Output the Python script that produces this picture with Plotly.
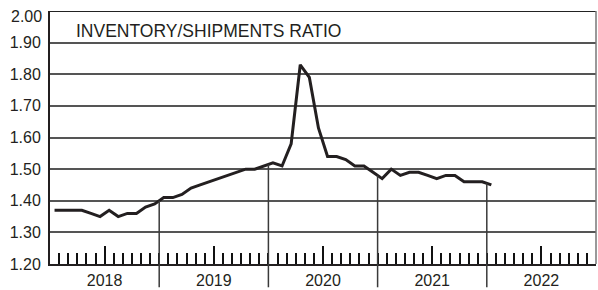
import plotly.graph_objects as go

# Monthly inventory/shipments ratio, Jan 2018 - Jan 2022
years = ["2018", "2019", "2020", "2021", "2022"]
ratio = [
    1.37, 1.37, 1.37, 1.37, 1.36, 1.35, 1.37, 1.35, 1.36, 1.36, 1.38, 1.39,  # 2018
    1.41, 1.41, 1.42, 1.44, 1.45, 1.46, 1.47, 1.48, 1.49, 1.50, 1.50, 1.51,  # 2019
    1.52, 1.51, 1.58, 1.83, 1.79, 1.63, 1.54, 1.54, 1.53, 1.51, 1.51, 1.49,  # 2020
    1.47, 1.50, 1.48, 1.49, 1.49, 1.48, 1.47, 1.48, 1.48, 1.46, 1.46, 1.46,  # 2021
    1.45,                                                                    # 2022
]
y_ticks = [1.2, 1.3, 1.4, 1.5, 1.6, 1.7, 1.8, 1.9]
title_text = "INVENTORY/SHIPMENTS RATIO"

months = [i + 0.5 for i in range(len(ratio))]  # plotted mid-month
n_months = 12 * len(years)

FONT = "Liberation Sans"
fig = go.Figure()
fig.add_trace(go.Scatter(x=months, y=ratio, mode="lines",
                         line=dict(color="#231f20", width=3), hoverinfo="skip"))

shapes = []
# drop lines at year boundaries, from data value to below axis
for k in range(1, len(years)):
    b = 12 * k
    if b >= len(ratio):
        break
    v = (ratio[b - 1] + ratio[b]) / 2
    shapes.append(dict(type="line", xref="x", yref="y", x0=b, x1=b, y0=1.2, y1=v,
                       line=dict(color="#3a3a3a", width=1.5), layer="above"))
for k in range(1, len(years)):
    b = 12 * k
    shapes.append(dict(type="line", xref="x", yref="paper", x0=b, x1=b, y0=0, y1=-0.092,
                       line=dict(color="#3a3a3a", width=1.5)))
# top border and right border
shapes.append(dict(type="line", xref="paper", yref="y", x0=0, x1=1, y0=2.0, y1=2.0,
                   line=dict(color="#222", width=2)))
shapes.append(dict(type="line", xref="paper", yref="paper", x0=1, x1=1, y0=0, y1=1,
                   line=dict(color="#777", width=1.5)))

fig.update_layout(
    width=598, height=290,
    margin=dict(l=50, r=2, t=11, b=26),
    paper_bgcolor="white", plot_bgcolor="white",
    showlegend=False,
    shapes=shapes,
    font=dict(family=FONT, size=16, color="#231f20"),
    xaxis=dict(
        range=[0, n_months],
        automargin=False,
        tickvals=[12 * i + 6 for i in range(len(years))],
        ticktext=years,
        ticks="inside", ticklen=18, tickwidth=1.6, tickcolor="#111",
        minor=dict(dtick=1, tick0=0, ticks="inside", ticklen=11, tickwidth=1.6,
                   tickcolor="#111", showgrid=False),
        showgrid=False, zeroline=False,
        showline=True, linecolor="#231f20", linewidth=2,
        tickfont=dict(size=16),
        ticklabelstandoff=1,
    ),
    yaxis=dict(
        range=[1.2, 2.0],
        automargin=False,
        tickvals=y_ticks,
        ticktext=[f"{v:.2f}" for v in y_ticks],
        ticks="", showgrid=True, gridcolor="#555", gridwidth=1.5,
        zeroline=False,
        showline=True, linecolor="#231f20", linewidth=2,
        tickfont=dict(size=16),
        ticklabelstandoff=4,
    ),
    annotations=[
        dict(text="2.00", xref="paper", yref="y", x=0, y=2.0, xanchor="right",
             yanchor="middle", xshift=-6, yshift=-5, showarrow=False,
             font=dict(size=16)),
        dict(text=title_text, xref="paper", yref="paper", x=0.044, y=0.92,
             xanchor="left", yanchor="middle", showarrow=False, font=dict(size=17.5)),
    ],
)

fig.write_html("out.html", config={"displayModeBar": False},
               post_script="document.body.style.margin='0';document.body.style.overflow='hidden';")
